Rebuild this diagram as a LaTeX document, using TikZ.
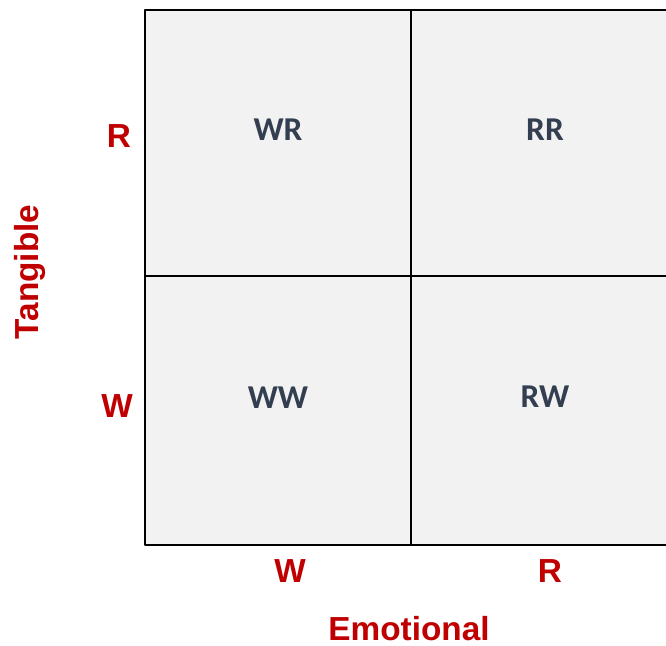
\documentclass[tikz,border=0pt]{standalone}
\usepackage{fontspec}
\setmainfont{Liberation Sans}
\newfontfamily\cellfont{Carlito}
\definecolor{axisred}{HTML}{C00000}
\definecolor{cellgray}{HTML}{F2F2F2}
\definecolor{celltext}{HTML}{333F50}
\begin{document}
\begin{tikzpicture}[x=0.75pt, y=0.75pt, line join=round,
  cell/.style={font=\cellfont\fontsize{25}{30}\bfseries\selectfont, text=celltext},
  axislab/.style={font=\fontsize{25}{30}\bfseries\selectfont, text=axisred}]
\useasboundingbox (0,0) rectangle (666,645);
% quadrants
\fill[cellgray] (145,100) rectangle (680,635);
\draw[line width=1.8pt] (680,635)--(145,635)--(145,100)--(680,100);
\draw[line width=1.8pt] (411,635)--(411,100);
\draw[line width=1.8pt] (145,369)--(680,369);
% cell labels
\node[cell] (wr) at (278,515) {WR};
\node[cell] (rr) at (545,515) {RR};
\node[cell] (ww) at (278,247) {WW};
\node[cell] (rw) at (545,248) {RW};
% axis labels
\node[axislab] (tr) at (119,509) {R};
\node[axislab] (tw) at (117,239) {W};
\node[axislab] (ew) at (290,74) {W};
\node[axislab] (er) at (550,74) {R};
\node[axislab, rotate=90] (tang) at (30,373) {Tangible};
\node[axislab, anchor=base, inner sep=0pt] (emo) at (409,5) {Emotional};
\end{tikzpicture}
\end{document}
